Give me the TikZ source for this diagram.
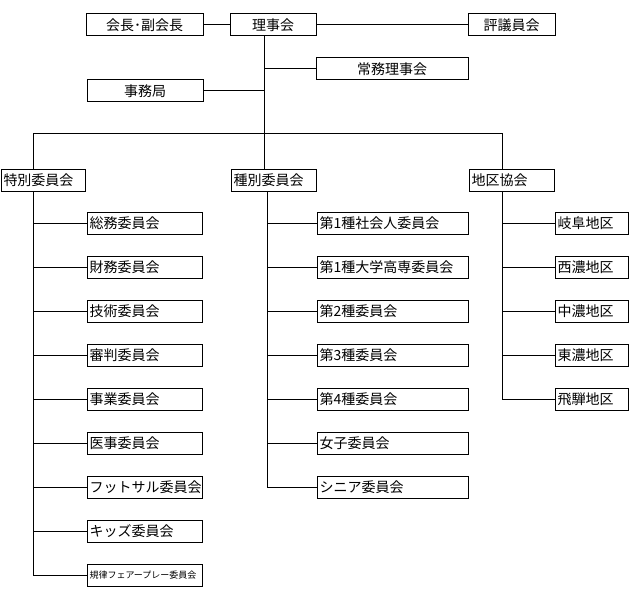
\documentclass[tikz,border=0pt]{standalone}
\usepackage{fontspec}
\setmainfont{Noto Sans CJK JP}
\begin{document}
\begin{tikzpicture}[x=1pt, y=-1pt, node distance=44pt, line width=1pt,
    box/.style={draw, minimum height=22pt, inner xsep=2pt, inner ysep=0pt, font=\fontsize{14}{16}\selectfont},
    cbox/.style={box, minimum width=#1},
    lbox/.style={box, text width=#1, align=left}]
    \useasboundingbox (0,0) rectangle (630,599);

    % Top
    \node (kaichou) [cbox=117pt] at (144.5,25) {会長･副会長};
    \node (riji) [cbox=86pt] at (273,25) {理事会};
    \node (hyougi) [cbox=87pt] at (511.5,25) {評議員会};
    \node (joumu) [cbox=152pt] at (392,69) {常務理事会};
    \node (jimu) [cbox=116pt] at (145,91) {事務局};

    % Committees
    \node (toku) [lbox=80pt] at (43.5,180.5) {特別委員会};
    \node (shubetsu) [lbox=81pt] at (274,180.5) {種別委員会};
    \node (chiku) [lbox=81pt] at (512,180.5) {地区協会};

    \node (soumu) [lbox=111pt] at (145,223.5) {総務委員会};
    \node (zaimu) [lbox=111pt, below of=soumu] {財務委員会};
    \node (gijutsu) [lbox=111pt, below of=zaimu] {技術委員会};
    \node (shinpan) [lbox=111pt, below of=gijutsu] {審判委員会};
    \node (jigyou) [lbox=111pt, below of=shinpan] {事業委員会};
    \node (iji) [lbox=111pt, below of=jigyou] {医事委員会};
    \node (futsal) [lbox=111pt, below of=iji] {フットサル委員会};
    \node (kids) [lbox=111pt, below of=futsal] {キッズ委員会};
    \node (kiritsu) [lbox=111pt, below of=kids, font=\fontsize{9}{11}\selectfont] {規律フェアープレー委員会};

    \node (dai1sha) [lbox=147pt] at (393,223.5) {第1種社会人委員会};
    \node (dai1dai) [lbox=147pt, below of=dai1sha] {第1種大学高専委員会};
    \node (dai2) [lbox=147pt, below of=dai1dai] {第2種委員会};
    \node (dai3) [lbox=147pt, below of=dai2] {第3種委員会};
    \node (dai4) [lbox=147pt, below of=dai3] {第4種委員会};
    \node (joshi) [lbox=147pt, below of=dai4] {女子委員会};
    \node (senior) [lbox=147pt, below of=joshi] {シニア委員会};

    \node (gifu) [lbox=69pt] at (592,223.5) {岐阜地区};
    \node (seinou) [lbox=69pt, below of=gifu] {西濃地区};
    \node (chuunou) [lbox=69pt, below of=seinou] {中濃地区};
    \node (tounou) [lbox=69pt, below of=chuunou] {東濃地区};
    \node (hida) [lbox=69pt, below of=tounou] {飛騨地区};

    % Lines
    \coordinate (bus) at (264,134);
    \draw (kaichou) -- (riji);
    \draw (riji) -- (hyougi);
    \draw ([xshift=-9pt]riji.south) -- (bus);
    \draw (joumu.west) -- (joumu.west -| bus);
    \draw (jimu.east) -- (jimu.east -| bus);
    \draw ([xshift=-10pt]toku.north) |- (bus);
    \draw ([xshift=-10pt]shubetsu.north) |- (bus);
    \draw ([xshift=-10pt]chiku.north) |- (bus);

    \draw ([xshift=-10pt]toku.south) |- (soumu.west);
    \draw ([xshift=-10pt]toku.south) |- (zaimu.west);
    \draw ([xshift=-10pt]toku.south) |- (gijutsu.west);
    \draw ([xshift=-10pt]toku.south) |- (shinpan.west);
    \draw ([xshift=-10pt]toku.south) |- (jigyou.west);
    \draw ([xshift=-10pt]toku.south) |- (iji.west);
    \draw ([xshift=-10pt]toku.south) |- (futsal.west);
    \draw ([xshift=-10pt]toku.south) |- (kids.west);
    \draw ([xshift=-10pt]toku.south) |- (kiritsu.west);

    \draw ([xshift=-7pt]shubetsu.south) |- (dai1sha.west);
    \draw ([xshift=-7pt]shubetsu.south) |- (dai1dai.west);
    \draw ([xshift=-7pt]shubetsu.south) |- (dai2.west);
    \draw ([xshift=-7pt]shubetsu.south) |- (dai3.west);
    \draw ([xshift=-7pt]shubetsu.south) |- (dai4.west);
    \draw ([xshift=-7pt]shubetsu.south) |- (joshi.west);
    \draw ([xshift=-7pt]shubetsu.south) |- (senior.west);

    \draw ([xshift=-10pt]chiku.south) |- (gifu.west);
    \draw ([xshift=-10pt]chiku.south) |- (seinou.west);
    \draw ([xshift=-10pt]chiku.south) |- (chuunou.west);
    \draw ([xshift=-10pt]chiku.south) |- (tounou.west);
    \draw ([xshift=-10pt]chiku.south) |- (hida.west);
\end{tikzpicture}
\end{document}
